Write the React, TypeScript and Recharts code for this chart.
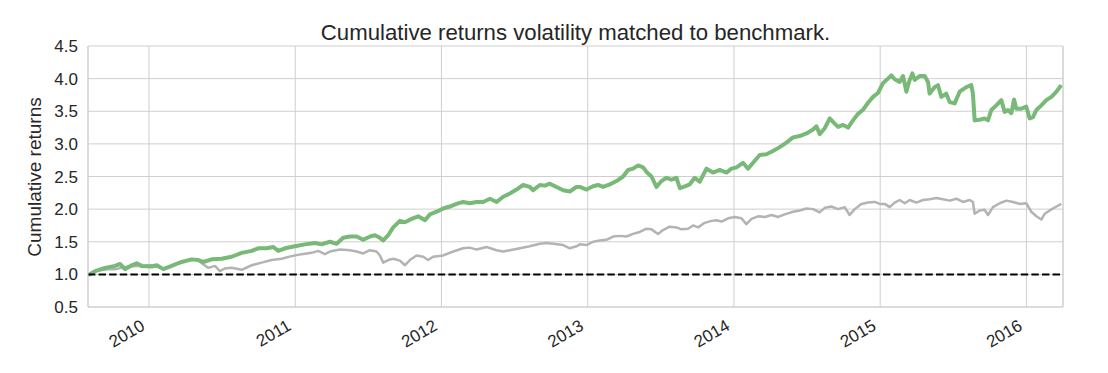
import { LineChart, Line, XAxis, YAxis, CartesianGrid, ReferenceLine } from "recharts";

// [fractional year, cumulative return]
const strategy: [number, number][] = [
  [2009.585, 0.99], [2009.631, 1.05], [2009.699, 1.1], [2009.768, 1.13], [2009.802, 1.16],
  [2009.836, 1.08], [2009.882, 1.14], [2009.916, 1.17], [2009.95, 1.13], [2010.018, 1.12],
  [2010.053, 1.14], [2010.098, 1.08], [2010.155, 1.13], [2010.223, 1.19], [2010.292, 1.23],
  [2010.337, 1.22], [2010.371, 1.19], [2010.428, 1.23], [2010.497, 1.24], [2010.565, 1.27],
  [2010.634, 1.33], [2010.702, 1.36], [2010.747, 1.4], [2010.804, 1.4], [2010.85, 1.42],
  [2010.884, 1.36], [2010.93, 1.4], [2010.998, 1.43], [2011.066, 1.46], [2011.135, 1.48],
  [2011.18, 1.46], [2011.237, 1.5], [2011.283, 1.47], [2011.328, 1.56], [2011.374, 1.58],
  [2011.42, 1.58], [2011.465, 1.53], [2011.511, 1.58], [2011.545, 1.6], [2011.579, 1.56],
  [2011.602, 1.52], [2011.636, 1.6], [2011.67, 1.72], [2011.716, 1.82], [2011.75, 1.8],
  [2011.796, 1.85], [2011.841, 1.89], [2011.887, 1.83], [2011.921, 1.92], [2011.967, 1.96],
  [2012.012, 2.01], [2012.057, 2.04], [2012.103, 2.08], [2012.148, 2.11], [2012.194, 2.09],
  [2012.24, 2.11], [2012.285, 2.11], [2012.331, 2.16], [2012.377, 2.11], [2012.422, 2.19],
  [2012.468, 2.24], [2012.513, 2.3], [2012.558, 2.37], [2012.604, 2.34], [2012.627, 2.29],
  [2012.673, 2.37], [2012.707, 2.36], [2012.741, 2.39], [2012.787, 2.34], [2012.832, 2.29],
  [2012.878, 2.27], [2012.923, 2.34], [2012.946, 2.34], [2012.992, 2.3], [2013.037, 2.35],
  [2013.071, 2.37], [2013.105, 2.34], [2013.151, 2.38], [2013.197, 2.43], [2013.242, 2.5],
  [2013.276, 2.6], [2013.31, 2.62], [2013.345, 2.67], [2013.379, 2.64], [2013.402, 2.57],
  [2013.436, 2.5], [2013.47, 2.34], [2013.504, 2.43], [2013.539, 2.48], [2013.573, 2.45],
  [2013.607, 2.48], [2013.63, 2.32], [2013.664, 2.35], [2013.698, 2.38], [2013.732, 2.48],
  [2013.766, 2.42], [2013.812, 2.62], [2013.857, 2.56], [2013.903, 2.6], [2013.949, 2.56],
  [2013.983, 2.62], [2014.017, 2.64], [2014.062, 2.71], [2014.096, 2.62], [2014.131, 2.71],
  [2014.176, 2.83], [2014.222, 2.84], [2014.267, 2.89], [2014.313, 2.95], [2014.359, 3.02],
  [2014.404, 3.1], [2014.45, 3.12], [2014.496, 3.16], [2014.541, 3.22], [2014.564, 3.27],
  [2014.586, 3.15], [2014.621, 3.24], [2014.655, 3.39], [2014.689, 3.31], [2014.712, 3.26],
  [2014.746, 3.29], [2014.78, 3.25], [2014.814, 3.36], [2014.848, 3.46], [2014.882, 3.52],
  [2014.917, 3.63], [2014.951, 3.72], [2014.985, 3.78], [2015.019, 3.93], [2015.053, 4.0],
  [2015.076, 4.05], [2015.099, 3.99], [2015.133, 3.95], [2015.156, 4.04], [2015.179, 3.8],
  [2015.197, 3.95], [2015.22, 4.08], [2015.236, 3.98], [2015.27, 4.04], [2015.304, 4.04],
  [2015.327, 3.95], [2015.338, 3.77], [2015.373, 3.87], [2015.395, 3.9], [2015.418, 3.72],
  [2015.452, 3.77], [2015.475, 3.64], [2015.509, 3.62], [2015.543, 3.8], [2015.589, 3.87],
  [2015.623, 3.9], [2015.634, 3.77], [2015.646, 3.36], [2015.68, 3.37], [2015.714, 3.39],
  [2015.737, 3.36], [2015.76, 3.52], [2015.794, 3.59], [2015.828, 3.67], [2015.851, 3.49],
  [2015.874, 3.52], [2015.897, 3.47], [2015.915, 3.68], [2015.931, 3.54], [2015.965, 3.54],
  [2015.999, 3.57], [2016.022, 3.39], [2016.045, 3.41], [2016.068, 3.52], [2016.102, 3.59],
  [2016.136, 3.67], [2016.171, 3.72], [2016.205, 3.8], [2016.238, 3.9],
];

const benchmark: [number, number][] = [
  [2009.585, 0.99], [2009.653, 1.06], [2009.722, 1.08], [2009.768, 1.08], [2009.813, 1.1],
  [2009.859, 1.12], [2009.927, 1.13], [2010.018, 1.14], [2010.098, 1.09], [2010.155, 1.13],
  [2010.223, 1.19], [2010.292, 1.22], [2010.337, 1.23], [2010.36, 1.17], [2010.405, 1.1],
  [2010.451, 1.13], [2010.485, 1.05], [2010.519, 1.09], [2010.565, 1.1], [2010.634, 1.07],
  [2010.702, 1.14], [2010.77, 1.18], [2010.839, 1.22], [2010.907, 1.24], [2010.975, 1.28],
  [2011.044, 1.31], [2011.112, 1.33], [2011.157, 1.36], [2011.203, 1.31], [2011.237, 1.35],
  [2011.306, 1.38], [2011.374, 1.37], [2011.42, 1.35], [2011.465, 1.32], [2011.511, 1.37],
  [2011.556, 1.35], [2011.579, 1.29], [2011.602, 1.18], [2011.636, 1.22], [2011.67, 1.24],
  [2011.716, 1.21], [2011.75, 1.14], [2011.784, 1.22], [2011.83, 1.29], [2011.875, 1.27],
  [2011.909, 1.22], [2011.943, 1.27], [2012.012, 1.29], [2012.08, 1.35], [2012.148, 1.4],
  [2012.194, 1.41], [2012.24, 1.38], [2012.308, 1.42], [2012.377, 1.37], [2012.422, 1.35],
  [2012.468, 1.37], [2012.536, 1.4], [2012.604, 1.43], [2012.673, 1.47], [2012.718, 1.48],
  [2012.764, 1.47], [2012.832, 1.45], [2012.878, 1.4], [2012.923, 1.43], [2012.946, 1.46],
  [2012.992, 1.45], [2013.037, 1.5], [2013.082, 1.52], [2013.128, 1.53], [2013.174, 1.58],
  [2013.219, 1.59], [2013.265, 1.58], [2013.31, 1.62], [2013.356, 1.65], [2013.402, 1.7],
  [2013.436, 1.69], [2013.481, 1.62], [2013.515, 1.68], [2013.561, 1.73], [2013.607, 1.72],
  [2013.641, 1.69], [2013.686, 1.7], [2013.721, 1.75], [2013.755, 1.72], [2013.8, 1.79],
  [2013.846, 1.82], [2013.88, 1.83], [2013.915, 1.81], [2013.96, 1.86], [2014.006, 1.88],
  [2014.051, 1.86], [2014.085, 1.77], [2014.12, 1.85], [2014.165, 1.89], [2014.211, 1.88],
  [2014.256, 1.91], [2014.302, 1.88], [2014.347, 1.92], [2014.404, 1.96], [2014.45, 1.98],
  [2014.496, 2.01], [2014.541, 2.0], [2014.586, 1.95], [2014.621, 2.02], [2014.666, 2.04],
  [2014.712, 2.0], [2014.757, 2.03], [2014.791, 1.91], [2014.826, 2.0], [2014.871, 2.08],
  [2014.917, 2.1], [2014.962, 2.11], [2014.997, 2.08], [2015.031, 2.08], [2015.065, 2.03],
  [2015.099, 2.1], [2015.133, 2.14], [2015.168, 2.09], [2015.202, 2.14], [2015.247, 2.1],
  [2015.293, 2.14], [2015.338, 2.15], [2015.384, 2.17], [2015.429, 2.15], [2015.475, 2.13],
  [2015.521, 2.16], [2015.566, 2.11], [2015.612, 2.14], [2015.634, 2.11], [2015.646, 1.93],
  [2015.68, 1.98], [2015.714, 1.99], [2015.737, 1.91], [2015.771, 2.03], [2015.817, 2.09],
  [2015.863, 2.13], [2015.908, 2.11], [2015.954, 2.08], [2015.999, 2.09], [2016.033, 1.96],
  [2016.068, 1.89], [2016.102, 1.84], [2016.125, 1.93], [2016.159, 1.98], [2016.205, 2.04],
  [2016.238, 2.08],
];

const yearTicks = [2010, 2011, 2012, 2013, 2014, 2015, 2016];
const returnTicks = [0.5, 1.0, 1.5, 2.0, 2.5, 3.0, 3.5, 4.0, 4.5];
const X_MIN = 2009.583;
const X_MAX = 2016.25;

const FONT = '"Liberation Sans", Arial, sans-serif';
const TEXT = "#262626";
const GRID = "#cfcfcf";

const toPoints = (rows: [number, number][]) => rows.map(([x, y]) => ({ x, y }));

function YearTick({ x, y, payload }: any) {
  const bx = x - 3;
  const by = y + 22;
  return (
    <text
      x={bx}
      y={by}
      transform={`rotate(-30 ${bx} ${by})`}
      textAnchor="end"
      fill={TEXT}
      fontSize={17}
      fontFamily={FONT}
    >
      {payload.value}
    </text>
  );
}

export default function App() {
  return (
    <div
      style={{
        position: "absolute",
        left: 0,
        top: 0,
        width: 1108,
        height: 373,
        background: "#fff",
        fontFamily: FONT,
      }}
    >
      <div
        style={{
          position: "absolute",
          left: 88,
          width: 975,
          top: 22,
          fontSize: 22.2,
          lineHeight: "22px",
          textAlign: "center",
          color: TEXT,
        }}
      >
        Cumulative returns volatility matched to benchmark.
      </div>
      <div
        style={{
          position: "absolute",
          left: 35,
          top: 177,
          transform: "translate(-50%, -50%) rotate(-90deg)",
          fontSize: 19,
          whiteSpace: "nowrap",
          color: TEXT,
        }}
      >
        Cumulative returns
      </div>
      <LineChart
        width={1108}
        height={373}
        margin={{ top: 46, right: 45, bottom: 0, left: 0 }}
      >
        <CartesianGrid stroke={GRID} strokeWidth={1} />
        <XAxis
          type="number"
          dataKey="x"
          domain={[X_MIN, X_MAX]}
          allowDataOverflow
          ticks={yearTicks}
          tick={<YearTick />}
          tickLine={false}
          tickSize={0}
          tickMargin={0}
          height={66}
          axisLine={{ stroke: GRID }}
        />
        <YAxis
          type="number"
          domain={[0.5, 4.5]}
          ticks={returnTicks}
          tickFormatter={(v: number) => v.toFixed(1)}
          tick={{ fill: TEXT, fontSize: 17, fontFamily: FONT }}
          tickLine={false}
          tickSize={0}
          tickMargin={10}
          width={88}
          axisLine={{ stroke: GRID }}
        />
        <ReferenceLine x={X_MAX} stroke={GRID} />
        <Line
          data={toPoints(benchmark)}
          dataKey="y"
          type="linear"
          stroke="#b3b3b3"
          strokeWidth={2.5}
          strokeLinejoin="round"
          dot={false}
          isAnimationActive={false}
        />
        <Line
          data={toPoints(strategy)}
          dataKey="y"
          type="linear"
          stroke="#78b978"
          strokeWidth={4}
          strokeLinejoin="round"
          dot={false}
          isAnimationActive={false}
        />
        <ReferenceLine y={1} stroke="#000" strokeWidth={2} strokeDasharray="7.4 3.2" />
      </LineChart>
    </div>
  );
}
